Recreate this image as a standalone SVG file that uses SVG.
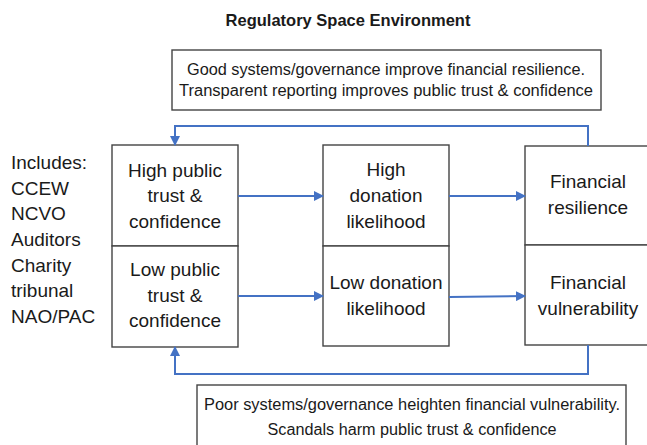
<svg xmlns="http://www.w3.org/2000/svg" width="647" height="445" viewBox="0 0 647 445">
  <style>
    text { font-family: "Liberation Sans", Arial, sans-serif; fill: #1a1a1a; }
    .title { font-size: 16.5px; font-weight: bold; text-anchor: middle; }
    .note { font-size: 16px; text-anchor: middle; }
    .lbl { font-size: 19px; text-anchor: middle; }
    .side { font-size: 19px; }
    .box { fill: #ffffff; stroke: #444444; stroke-width: 1.4; }
    .conn { fill: none; stroke: #4472C4; stroke-width: 2; }
  </style>
  <defs>
    <marker id="arrow" markerWidth="10" markerHeight="10" refX="9" refY="5" orient="auto" markerUnits="userSpaceOnUse">
      <path d="M0,0 L10,5 L0,10 Z" fill="#4472C4"/>
    </marker>
  </defs>

  <rect width="647" height="445" fill="#ffffff"/>

  <text class="title" x="348" y="26">Regulatory Space Environment</text>

  <g id="note-good">
    <rect class="box" x="172" y="50" width="429" height="60"/>
    <text class="note" x="386" y="75" textLength="398" lengthAdjust="spacingAndGlyphs">Good systems/governance improve financial resilience.</text>
    <text class="note" x="386" y="96" textLength="414" lengthAdjust="spacingAndGlyphs">Transparent reporting improves public trust &amp; confidence</text>
  </g>

  <g id="regulators">
    <text class="side" x="11" y="169">Includes:</text>
    <text class="side" x="11" y="195">CCEW</text>
    <text class="side" x="11" y="220">NCVO</text>
    <text class="side" x="11" y="246">Auditors</text>
    <text class="side" x="11" y="272">Charity</text>
    <text class="side" x="11" y="297">tribunal</text>
    <text class="side" x="11" y="323">NAO/PAC</text>
  </g>

  <g id="high-trust">
    <rect class="box" x="112" y="145" width="126" height="101"/>
    <text class="lbl" x="175" y="177">High public</text>
    <text class="lbl" x="175" y="202">trust &amp;</text>
    <text class="lbl" x="175" y="228">confidence</text>
  </g>
  <g id="low-trust">
    <rect class="box" x="112" y="246" width="126" height="101"/>
    <text class="lbl" x="175" y="276">Low public</text>
    <text class="lbl" x="175" y="302">trust &amp;</text>
    <text class="lbl" x="175" y="327">confidence</text>
  </g>

  <g id="high-donation">
    <rect class="box" x="323" y="145" width="126" height="101"/>
    <text class="lbl" x="386" y="176">High</text>
    <text class="lbl" x="386" y="202">donation</text>
    <text class="lbl" x="386" y="228">likelihood</text>
  </g>
  <g id="low-donation">
    <rect class="box" x="323" y="246" width="126" height="100"/>
    <text class="lbl" x="386" y="289">Low donation</text>
    <text class="lbl" x="386" y="315">likelihood</text>
  </g>

  <g id="resilience">
    <rect class="box" x="525" y="146" width="126" height="99"/>
    <text class="lbl" x="588" y="188">Financial</text>
    <text class="lbl" x="588" y="214">resilience</text>
  </g>
  <g id="vulnerability">
    <rect class="box" x="525" y="245" width="126" height="100"/>
    <text class="lbl" x="588" y="289">Financial</text>
    <text class="lbl" x="588" y="315">vulnerability</text>
  </g>

  <g id="note-poor">
    <rect class="box" x="197" y="385" width="429" height="70"/>
    <text class="note" x="412" y="410" textLength="416" lengthAdjust="spacingAndGlyphs">Poor systems/governance heighten financial vulnerability.</text>
    <text class="note" x="412" y="435" textLength="289" lengthAdjust="spacingAndGlyphs">Scandals harm public trust &amp; confidence</text>
  </g>

  <g id="connectors">
    <path class="conn" d="M238,196 H323" marker-end="url(#arrow)"/>
    <path class="conn" d="M449,196 H525" marker-end="url(#arrow)"/>
    <path class="conn" d="M238,296 H323" marker-end="url(#arrow)"/>
    <path class="conn" d="M449,297 L525,296" marker-end="url(#arrow)"/>
    <path class="conn" d="M588,146 V126 H175 V145" marker-end="url(#arrow)"/>
    <path class="conn" d="M588,345 V374 H175 V347" marker-end="url(#arrow)"/>
  </g>
</svg>
